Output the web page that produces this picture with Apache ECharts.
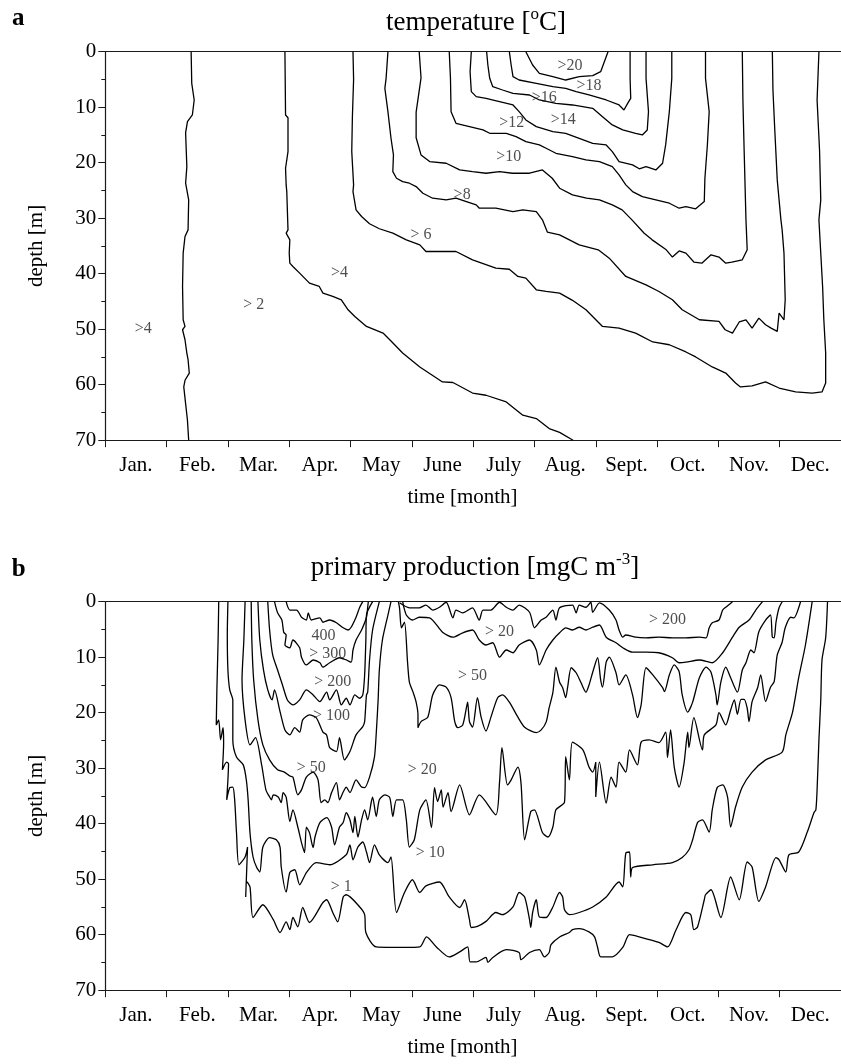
<!DOCTYPE html>
<html><head><meta charset="utf-8">
<script src="https://cdn.jsdelivr.net/npm/echarts@6/dist/echarts.min.js"></script>
<style>html,body{margin:0;padding:0;background:#fff}#c{width:841px;height:1064px}</style>
</head><body><div id="c"></div>
<script>
// ---------- categories / ticks ----------
const months = ['Jan.','Feb.','Mar.','Apr.','May','June','July','Aug.','Sept.','Oct.','Nov.','Dec.'];
const depthMin = 0, depthMax = 70, depthStep = 10;

// ---------- panel a : temperature isolines [month, depth m] ----------
const tempFeb = [[1.40,0],[1.41,5.7],[1.45,8.7],[1.42,11.4],[1.34,12.6],[1.31,14.6],[1.33,20.7],[1.31,23.7],[1.36,26.7],[1.35,32.1],[1.30,33.3],[1.27,36.3],[1.26,42.3],[1.27,48.3],[1.30,49.5],[1.26,50.1],[1.30,51.9],[1.33,54.3],[1.35,55.5],[1.37,57.9],[1.30,59.2],[1.28,60.4],[1.31,63.4],[1.34,66.4],[1.36,70]];
const temp4 = [[2.93,0],[2.94,11.4],[2.98,11.9],[2.98,18],[2.94,21],[2.95,24],[2.96,25.2],[2.98,32.1],[2.95,32.7],[3.01,33.9],[3.00,36.3],[3.01,38.1],[3.06,38.7],[3.17,39.9],[3.33,41.7],[3.49,42.3],[3.55,43.5],[3.71,44.1],[3.85,44.7],[3.96,46.5],[4.07,47.7],[4.26,49.5],[4.53,50.7],[4.64,51.9],[4.85,54.3],[5.13,56.8],[5.50,59.5],[5.67,59.6],[5.99,61.5],[6.21,61.9],[6.54,63.1],[6.81,65.5],[7.03,66.1],[7.24,67.9],[7.41,68.6],[7.63,70]];
const temp6 = [[4.04,0],[4.05,5],[4.03,11.9],[4.02,18],[4.05,24.0],[4.04,25.2],[4.09,28.5],[4.18,29.7],[4.31,31.0],[4.47,31.9],[4.69,32.7],[4.91,33.9],[5.13,34.8],[5.23,36.0],[5.72,36.0],[5.99,37.5],[6.37,39.0],[6.59,39.2],[6.73,40.5],[6.86,40.8],[7.03,42.9],[7.19,43.2],[7.41,43.5],[7.62,44.8],[7.84,46.5],[8.11,49.5],[8.38,49.8],[8.65,50.7],[8.93,52.3],[9.20,52.8],[9.47,54.1],[9.63,55.0],[9.90,56.8],[10.12,57.9],[10.28,59.7],[10.36,60.4],[10.55,60.2],[10.77,59.5],[10.99,60.6],[11.26,61.3],[11.53,61.5],[11.69,61.3],[11.75,59.7],[11.75,54.3],[11.72,48.3],[11.70,42.3],[11.67,36.3],[11.64,30.3],[11.67,26.7],[11.65,17.7],[11.61,8.7],[11.64,0]];
const temp8 = [[4.61,0],[4.58,4.8],[4.56,6.6],[4.61,10.8],[4.66,15.6],[4.70,18.6],[4.69,21.6],[4.75,22.8],[4.85,23.4],[4.96,23.7],[5.07,24.3],[5.18,25.5],[5.34,26.4],[5.56,26.7],[5.72,26.4],[5.89,27.0],[6.05,27.6],[6.10,28.2],[6.37,28.2],[6.65,28.8],[6.81,28.5],[7.03,28.8],[7.13,30.3],[7.21,32.5],[7.41,33.0],[7.73,34.8],[8.04,35.7],[8.22,37.2],[8.49,40.5],[8.82,42.0],[9.03,43.2],[9.25,44.7],[9.41,46.5],[9.69,48.3],[10.01,48.6],[10.11,50.1],[10.23,50.7],[10.34,48.7],[10.45,48.3],[10.55,49.8],[10.66,48.0],[10.77,49.2],[10.86,49.8],[10.96,50.4],[10.99,47.1],[11.07,48.3],[11.09,44.7],[11.07,36.3],[11.04,32.1],[11.02,30.3],[10.96,23.1],[10.92,14.1],[10.89,6.9],[10.88,0]];
const temp10 = [[5.12,0],[5.15,4.7],[5.07,10.9],[5.07,15.5],[5.15,18.6],[5.29,19.8],[5.56,20.1],[5.78,21.3],[5.99,21.6],[6.21,21.9],[6.43,21.6],[6.64,21.9],[6.92,21.9],[7.13,21.3],[7.29,22.8],[7.41,24.6],[7.62,25.8],[7.85,26.4],[8.06,26.7],[8.27,27.6],[8.43,28.5],[8.59,30.3],[8.79,32.7],[8.92,33.9],[9.15,35.7],[9.25,37.0],[9.36,35.9],[9.47,36.3],[9.60,37.9],[9.73,38.1],[9.88,36.6],[10.01,37.0],[10.12,38.1],[10.22,37.9],[10.39,37.5],[10.47,35.7],[10.45,30.3],[10.42,17.7],[10.40,8.7],[10.39,0]];
const temp12 = [[5.61,0],[5.63,4.8],[5.64,10.8],[5.72,12.9],[5.94,13.5],[6.16,14.1],[6.27,14.7],[6.54,14.7],[6.70,15.3],[6.86,16.2],[7.08,16.8],[7.19,17.4],[7.35,18.3],[7.62,18.9],[7.84,19.5],[8.06,19.8],[8.27,20.7],[8.38,22.2],[8.49,24.0],[8.60,25.2],[8.76,26.1],[8.98,26.7],[9.20,27.3],[9.36,28.2],[9.47,27.9],[9.63,28.3],[9.77,27.0],[9.78,22.8],[9.82,16.9],[9.85,10.8],[9.79,4.8],[9.79,0]];
const temp14 = [[5.97,0],[5.95,3.6],[5.97,7.2],[6.05,8.1],[6.21,8.4],[6.43,9.0],[6.65,9.6],[6.75,10.8],[6.86,12.3],[7.03,13.5],[7.30,14.4],[7.51,14.7],[7.73,15.6],[7.95,16.5],[8.17,16.8],[8.27,18.0],[8.38,19.8],[8.60,20.4],[8.71,21.1],[8.82,20.7],[8.98,21.3],[9.09,20.1],[9.14,16.8],[9.20,10.8],[9.24,4.8],[9.24,0]];
const temp16 = [[6.22,0],[6.24,2.4],[6.27,4.8],[6.32,6.3],[6.48,6.9],[6.65,7.5],[6.92,7.8],[7.08,8.7],[7.35,9.3],[7.62,9.6],[7.95,10.2],[8.11,11.7],[8.27,13.2],[8.44,14.1],[8.65,14.7],[8.76,15.0],[8.84,14.1],[8.86,10.8],[8.82,4.8],[8.82,0]];
const temp18 = [[6.59,0],[6.62,2.4],[6.65,4.5],[6.75,5.1],[7.03,5.7],[7.30,6.3],[7.51,6.6],[7.68,7.2],[7.89,7.8],[8.17,8.7],[8.38,9.6],[8.46,10.5],[8.52,9.3],[8.57,8.4],[8.56,4.8],[8.56,0]];
const temp20 = [[6.86,0],[6.97,2.4],[7.08,3.9],[7.30,4.5],[7.51,5.1],[7.73,4.5],[7.95,4.3],[8.08,3.6],[8.14,1.8],[8.20,0]];
const tempLabels = [[7.58,2.5,'>20'],[7.89,6.2,'>18'],[7.16,8.3,'>16'],[7.47,12.3,'>14'],[6.63,12.8,'>12'],[6.58,18.9,'>10'],[5.82,25.8,'>8'],[5.15,33.0,'> 6'],[3.82,39.9,'>4'],[2.42,45.6,'> 2'],[0.62,50.0,'>4']];

// ---------- panel b : primary production isolines [month, depth m] ----------
const prod1 = [[1.85,0],[1.84,6.9],[1.82,15.9],[1.81,22.2],[1.85,21.3],[1.88,24.9],[1.92,22.7],[1.93,25.4],[1.91,30.3],[1.98,28.9],[2.01,29.2],[2.00,32.1],[1.98,35.7],[2.03,33.5],[2.08,33.4],[2.11,35.7],[2.14,41.6],[2.18,47.4],[2.28,46.0],[2.32,44.2],[2.29,53.2],[2.31,50.5],[2.36,51.4],[2.41,56.9],[2.57,54.6],[2.74,57.3],[2.85,59.6],[2.95,57.7],[3.01,59.1],[3.06,56.9],[3.14,58.6],[3.22,55.1],[3.33,57.8],[3.55,54.2],[3.61,53.7],[3.71,56.0],[3.79,57.7],[3.88,53.2],[3.93,52.8],[4.15,55.0],[4.23,56.4],[4.25,59.6],[4.42,62.2],[4.88,62.3],[5.13,62.2],[5.24,60.4],[5.40,62.2],[5.61,64.0],[5.78,63.1],[5.91,62.2],[5.95,64.9],[6.05,64.9],[6.21,64.1],[6.24,65.0],[6.32,64.1],[6.54,62.7],[6.75,63.2],[6.78,64.5],[6.92,63.2],[7.08,62.7],[7.16,64.0],[7.24,63.2],[7.27,61.8],[7.41,60.4],[7.57,59.6],[7.62,59.1],[7.73,58.9],[7.89,59.5],[7.98,60.4],[8.03,62.3],[8.08,64.0],[8.27,64.0],[8.44,62.3],[8.55,60.0],[8.71,60.4],[9.03,61.4],[9.17,62.2],[9.31,59.1],[9.47,56.0],[9.55,56.4],[9.60,59.1],[9.66,58.6],[9.77,53.7],[9.79,52.8],[9.88,51.9],[10.04,56.9],[10.20,49.6],[10.34,53.7],[10.47,46.9],[10.55,47.8],[10.66,54.0],[10.77,51.4],[10.94,46.1],[10.99,46.5],[11.10,48.7],[11.15,45.6],[11.31,45.1],[11.45,41.5],[11.56,38.0],[11.59,37.5],[11.61,33.9],[11.64,24.9],[11.67,17.7],[11.69,10.5],[11.75,6.5],[11.78,0]];
const prod10 = [[2.00,0],[1.99,6.0],[2.00,12.3],[2.03,15.9],[2.08,17.7],[2.08,24.9],[2.14,28.0],[2.25,29.4],[2.30,32.1],[2.33,35.7],[2.36,41.6],[2.41,46.0],[2.47,47.9],[2.52,48.7],[2.57,44.2],[2.68,42.5],[2.79,42.9],[2.85,44.2],[2.87,47.8],[2.95,52.3],[3.01,48.8],[3.09,48.3],[3.17,51.0],[3.28,48.8],[3.44,47.0],[3.66,47.4],[3.93,45.6],[3.99,43.8],[4.04,46.5],[4.12,44.2],[4.20,43.3],[4.26,45.1],[4.31,47.0],[4.39,43.8],[4.47,45.6],[4.61,47.0],[4.66,46.0],[4.75,56.0],[4.88,52.4],[5.01,50.1],[5.13,52.4],[5.23,51.2],[5.45,50.5],[5.61,53.2],[5.78,55.1],[5.86,53.7],[5.94,57.3],[5.97,58.7],[6.07,58.5],[6.21,57.6],[6.37,56.0],[6.48,56.4],[6.65,55.0],[6.75,52.4],[6.84,53.2],[6.92,57.3],[6.94,58.7],[6.97,56.0],[7.03,53.7],[7.08,56.8],[7.19,56.9],[7.30,55.0],[7.41,52.4],[7.46,53.2],[7.49,55.5],[7.57,56.4],[7.73,56.0],[7.95,55.0],[8.17,53.2],[8.38,50.5],[8.44,51.4],[8.49,45.3],[8.55,45.1],[8.57,49.6],[8.60,47.9],[8.93,47.4],[9.25,47.0],[9.41,46.1],[9.52,44.7],[9.58,42.9],[9.66,39.8],[9.74,39.3],[9.85,41.5],[9.90,37.5],[9.98,33.5],[10.07,33.0],[10.15,35.2],[10.20,40.6],[10.28,37.0],[10.39,33.4],[10.55,30.7],[10.77,28.5],[11.04,27.1],[11.10,24.0],[11.21,19.9],[11.31,13.7],[11.42,7.8],[11.53,0]];
const prod20 = [[2.28,0],[2.26,6.9],[2.23,14.1],[2.28,21.3],[2.36,25.8],[2.45,24.5],[2.55,29.4],[2.62,33.9],[2.68,35.2],[2.71,35.7],[2.74,34.8],[2.82,35.2],[2.87,36.2],[2.90,34.4],[2.95,35.2],[3.01,39.6],[3.06,37.5],[3.14,40.6],[3.20,43.4],[3.25,45.2],[3.28,40.6],[3.33,41.6],[3.39,44.3],[3.42,42.4],[3.50,39.8],[3.61,38.9],[3.69,40.6],[3.74,43.8],[3.82,40.6],[3.88,39.8],[3.93,38.0],[3.99,39.3],[4.04,41.6],[4.07,38.7],[4.12,42.4],[4.18,39.3],[4.23,37.5],[4.28,39.3],[4.34,36.0],[4.36,35.2],[4.42,38.7],[4.47,35.7],[4.56,34.8],[4.64,35.3],[4.69,38.7],[4.75,35.7],[4.85,35.7],[4.91,39.3],[4.96,44.2],[5.04,42.9],[5.13,37.5],[5.23,35.7],[5.32,40.7],[5.37,33.5],[5.42,36.0],[5.48,33.9],[5.51,37.0],[5.59,34.4],[5.64,37.8],[5.78,33.0],[5.94,38.4],[6.10,34.8],[6.37,38.4],[6.43,32.6],[6.47,26.3],[6.56,33.0],[6.62,32.1],[6.73,29.8],[6.78,32.6],[6.84,42.9],[6.94,37.8],[7.00,37.5],[7.13,41.6],[7.22,42.4],[7.30,40.6],[7.35,37.5],[7.49,36.1],[7.51,27.9],[7.57,32.1],[7.62,25.3],[7.79,26.7],[7.89,29.8],[7.95,30.7],[8.00,28.9],[8.00,35.2],[8.06,28.9],[8.17,36.3],[8.25,31.6],[8.33,33.4],[8.38,28.9],[8.49,30.7],[8.55,26.7],[8.68,29.4],[8.74,25.3],[8.87,24.9],[9.03,25.4],[9.14,23.5],[9.17,28.1],[9.22,23.1],[9.28,29.8],[9.36,33.4],[9.44,29.1],[9.50,23.5],[9.52,26.3],[9.60,20.9],[9.74,26.7],[9.77,24.0],[9.96,22.2],[10.01,20.0],[10.12,22.2],[10.20,19.5],[10.26,17.7],[10.31,20.3],[10.37,17.6],[10.42,17.6],[10.47,19.2],[10.50,21.6],[10.55,18.0],[10.64,15.5],[10.69,13.2],[10.77,18.0],[10.85,15.4],[10.91,14.4],[10.96,9.6],[11.04,7.3],[11.09,4.7],[11.18,2.8],[11.23,2.9],[11.34,0]];
const prod50spring = [[2.38,0],[2.39,6.9],[2.42,14.1],[2.49,21.3],[2.57,25.8],[2.68,28.5],[2.81,30.3],[2.92,30.7],[3.01,31.4],[3.06,31.6],[3.14,34.8],[3.20,33.9],[3.28,31.6],[3.39,30.7],[3.47,32.1],[3.52,36.2],[3.58,35.7],[3.63,36.2],[3.69,34.4],[3.77,32.6],[3.82,35.7],[3.88,34.3],[3.93,33.4],[3.99,34.4],[4.09,32.1],[4.18,33.4],[4.23,33.5],[4.31,31.6],[4.39,28.0],[4.42,23.6],[4.45,17.7],[4.47,12.3],[4.52,6.9],[4.61,2.4],[4.66,0]];
const prod100spring = [[2.49,0],[2.52,6.9],[2.58,12.3],[2.65,15.9],[2.72,17.7],[2.76,15.9],[2.85,19.8],[2.93,23.1],[3.01,24.0],[3.09,22.7],[3.17,23.5],[3.22,21.3],[3.33,20.4],[3.44,20.9],[3.55,23.5],[3.61,24.0],[3.66,26.3],[3.77,27.0],[3.82,24.5],[3.90,28.5],[3.99,27.0],[4.09,24.0],[4.20,22.5],[4.23,21.6],[4.26,16.8],[4.28,16.3],[4.31,10.5],[4.36,5.1],[4.47,0]];
const prod200spring = [[2.65,0],[2.68,5.1],[2.73,9.6],[2.81,12.3],[2.89,15.0],[2.97,17.7],[3.06,18.6],[3.17,17.7],[3.28,15.9],[3.39,16.8],[3.50,18.0],[3.61,16.3],[3.66,17.7],[3.77,15.9],[3.85,18.6],[3.93,17.4],[3.99,18.6],[4.07,16.8],[4.15,17.4],[4.20,16.8],[4.23,13.2],[4.25,6.9],[4.26,2.4],[4.36,0]];
const prod300spring = [[2.76,0],[2.81,2.0],[2.88,3.3],[2.91,5.5],[2.95,6.0],[2.93,7.8],[3.01,8.3],[3.06,6.9],[3.17,8.3],[3.20,10.0],[3.28,11.4],[3.39,10.5],[3.50,11.0],[3.55,11.8],[3.66,11.0],[3.82,10.1],[3.93,10.5],[4.01,10.9],[4.04,8.7],[4.09,6.9],[4.18,5.1],[4.26,2.8],[4.28,1.0],[4.29,0]];
const prod400spring = [[2.95,0],[3.01,1.5],[3.12,1.5],[3.20,2.8],[3.28,3.3],[3.31,2.0],[3.36,3.3],[3.50,2.9],[3.55,3.7],[3.66,3.3],[3.77,3.8],[3.88,4.7],[3.96,5.1],[4.01,4.6],[4.09,2.8],[4.15,1.0],[4.20,0]];
const prod50summer = [[4.78,0],[4.80,1.2],[4.83,4.7],[4.88,3.7],[4.93,10.9],[4.96,14.5],[5.02,16.3],[5.07,18.1],[5.10,20.4],[5.10,22.7],[5.15,21.6],[5.26,20.8],[5.34,16.8],[5.45,15.0],[5.56,15.4],[5.64,17.3],[5.70,21.6],[5.75,22.7],[5.83,22.2],[5.89,19.1],[5.91,18.1],[5.94,21.6],[5.99,22.6],[6.07,17.3],[6.13,20.8],[6.21,23.3],[6.29,20.8],[6.40,17.3],[6.48,16.8],[6.59,18.1],[6.73,20.8],[6.84,22.6],[7.03,23.6],[7.11,23.1],[7.19,21.7],[7.24,19.1],[7.30,16.4],[7.35,11.8],[7.41,14.5],[7.46,15.5],[7.51,17.3],[7.54,15.5],[7.60,11.9],[7.68,12.8],[7.76,14.6],[7.84,16.3],[7.89,15.0],[7.95,12.7],[8.03,10.1],[8.08,14.1],[8.11,15.4],[8.17,10.9],[8.22,10.0],[8.33,12.8],[8.38,15.0],[8.49,13.2],[8.60,16.8],[8.68,20.9],[8.74,18.6],[8.82,11.9],[8.93,13.2],[9.09,15.5],[9.12,16.2],[9.20,13.2],[9.28,11.4],[9.36,12.6],[9.41,16.8],[9.50,19.9],[9.58,18.1],[9.69,13.7],[9.80,11.8],[9.88,12.7],[9.96,16.8],[9.98,18.6],[10.04,14.5],[10.12,11.8],[10.20,13.7],[10.31,16.3],[10.39,12.3],[10.45,11.0],[10.53,8.7],[10.58,9.2],[10.66,5.4],[10.77,3.3],[10.85,2.4],[10.88,6.4],[10.91,6.5],[10.94,3.7],[10.99,1.1],[11.04,0]];
const prodSub = [[4.85,0],[4.91,2.4],[5.01,3.3],[5.12,2.8],[5.29,2.9],[5.50,5.5],[5.67,6.4],[5.83,5.6],[5.99,5.1],[6.10,6.9],[6.21,7.8],[6.32,7.4],[6.43,10.0],[6.54,8.7],[6.65,9.2],[6.75,7.8],[6.92,6.9],[7.03,8.7],[7.08,11.4],[7.19,8.7],[7.30,6.9],[7.41,5.6],[7.51,4.7],[7.62,5.1],[7.73,4.6],[7.84,5.1],[7.95,4.6],[8.06,4.2],[8.17,6.4],[8.33,7.4],[8.44,8.3],[8.60,9.1],[8.82,9.1],[9.03,9.2],[9.25,10.1],[9.36,11.0],[9.47,10.9],[9.69,10.5],[9.90,11.0],[10.07,9.2],[10.23,6.4],[10.34,4.6],[10.50,3.3],[10.61,1.5],[10.72,0]];
const prodSurface = [[4.80,0.2],[4.96,1.1],[5.12,1.1],[5.23,0.6],[5.34,1.5],[5.45,1.0],[5.56,0.1],[5.67,2.9],[5.72,1.5],[5.83,2.0],[5.99,1.1],[6.10,3.3],[6.16,1.5],[6.29,1.5],[6.43,0.1],[6.54,1.0],[6.65,1.5],[6.75,0.6],[6.92,1.9],[7.00,4.7],[7.11,3.3],[7.19,2.8],[7.30,1.5],[7.35,3.3],[7.41,1.1],[7.62,0.6],[7.68,2.0],[7.73,0.6],[7.84,1.0],[7.92,0.1],[7.95,1.9],[8.06,0.2],[8.22,1.5],[8.33,3.3],[8.38,5.1],[8.44,6.4],[8.49,6.0],[8.65,6.4],[8.82,6.5],[9.03,6.4],[9.25,6.5],[9.47,6.5],[9.69,6.4],[9.80,6.5],[9.85,4.7],[9.90,3.8],[10.01,3.3],[10.07,1.5],[10.12,1.0],[10.23,0]];
const prodLabels = [[3.56,6.1,'400'],[3.63,9.4,'> 300'],[3.71,14.5,'> 200'],[3.69,20.6,'> 100'],[3.36,30.0,'> 50'],[3.85,51.3,'> 1'],[5.17,30.3,'> 20'],[5.30,45.2,'> 10'],[6.43,5.4,'> 20'],[5.99,13.3,'> 50'],[9.17,3.3,'> 200']];

// ---------- build ----------
const FONT = '"Liberation Serif","Times New Roman",Times,serif';
const tempLines = [tempFeb,temp4,temp6,temp8,temp10,temp12,temp14,temp16,temp18,temp20];
const prodLines = [prod1,prod10,prod20,prod50spring,prod100spring,prod200spring,prod300spring,prod400spring,prod50summer,prodSub,prodSurface];

const chart = echarts.init(document.getElementById('c'), null, {renderer:'canvas'});
const measure = document.createElement('canvas').getContext('2d');
function tw(t, size, weight){ measure.font = (weight||'normal') + ' ' + size + 'px ' + FONT; return measure.measureText(t).width; }
function txt(x, baseline, t, size, weight, align){
  return {type:'text', x:x, y: baseline - 0.34*size, silent:true,
    style:{text:t, font:(weight||'normal')+' '+size+'px '+FONT, fill:'#000', textAlign:align||'left', textVerticalAlign:'middle'}};
}
function title(cx, baseline, main, sup, tail){
  const w1 = tw(main,27), w2 = tw(sup,17), w3 = tw(tail,27);
  const x0 = cx - (w1+w2+w3)/2;
  return [txt(x0, baseline, main, 27), txt(x0+w1, baseline-11, sup, 17), txt(x0+w1+w2, baseline, tail, 27)];
}
const AX = '#1a1a1a';
const panels = [{top:51.7}, {top:601.7}];
const grids = panels.map(p => ({left:105.3, top:p.top, width:737, height:388.5, show:false}));
const xAxis = [], yAxis = [];
panels.forEach((p,i) => {
  xAxis.push({type:'category', gridIndex:i, data:months, boundaryGap:true, position:'bottom',
    axisLine:{show:true, onZero:false, lineStyle:{color:AX, width:1.2}},
    axisTick:{show:true, length:7, alignWithLabel:false, interval:0, lineStyle:{color:AX}},
    axisLabel:{interval:0, fontFamily:FONT, fontSize:21, color:'#000', margin:15},
    splitLine:{show:false}});
  // data axis for the isolines; drawn at the top only as the frame line
  xAxis.push({type:'value', gridIndex:i, min:0, max:12, position:'top', show:true,
    axisLine:{show:true, onZero:false, lineStyle:{color:AX, width:1.2}},
    axisTick:{show:false}, axisLabel:{show:false}, splitLine:{show:false}});
  yAxis.push({type:'value', gridIndex:i, inverse:true, min:depthMin, max:depthMax, interval:depthStep,
    axisLine:{show:true, onZero:false, lineStyle:{color:AX, width:1.2}},
    axisTick:{show:true, length:7, lineStyle:{color:AX}},
    minorTick:{show:true, splitNumber:2, length:4, lineStyle:{color:AX}},
    axisLabel:{fontFamily:FONT, fontSize:21, color:'#000', margin:9},
    splitLine:{show:false}, minorSplitLine:{show:false},
    name:'depth [m]', nameLocation:'middle', nameGap:58, nameRotate:90,
    nameTextStyle:{fontFamily:FONT, fontSize:21, color:'#000'}});
});
const series = [];
function addLines(lines, gi, smooth){
  lines.forEach(arr => series.push({type:'line', xAxisIndex:gi*2+1, yAxisIndex:gi, data:arr, showSymbol:false, symbol:'none',
    smooth:smooth, lineStyle:{color:'#000', width:1.3}, silent:true, animation:false, z:3}));
}
function addLabels(labels, gi){
  series.push({type:'scatter', xAxisIndex:gi*2+1, yAxisIndex:gi, symbolSize:1, itemStyle:{color:'rgba(0,0,0,0)'}, silent:true, z:5,
    data: labels.map(l => ({value:[l[0], l[1]], name:l[2]})),
    label:{show:true, position:'inside', formatter: p => p.name, fontFamily:FONT, fontSize:16, color:'#222'}});
}
addLines(tempLines, 0, false);
addLines(prodLines, 1, 0.25);
addLabels(tempLabels, 0);
addLabels(prodLabels, 1);

const graphics = [].concat(
  [txt(12, 26.7, 'a', 25, 'bold')],
  title(476, 31.7, 'temperature [', 'o', 'C]'),
  [txt(462.5, 505, 'time [month]', 21, 'normal', 'center')],
  [txt(11.7, 578, 'b', 25, 'bold')],
  title(475, 576.7, 'primary production [mgC m', '-3', ']'),
  [txt(462.5, 1055, 'time [month]', 21, 'normal', 'center')]
);

chart.setOption({animation:false, backgroundColor:'#fff', grid:grids, xAxis:xAxis, yAxis:yAxis, series:series, graphic:graphics});
</script></body></html>
